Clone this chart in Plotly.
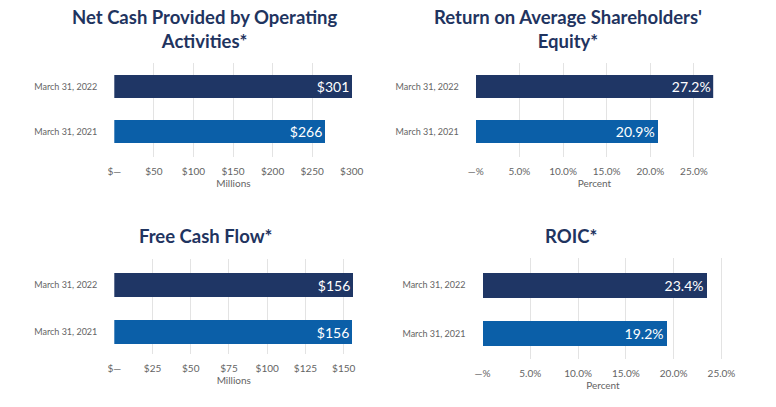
import plotly.graph_objects as go

W, H = 776, 407

categories = ["March 31, 2021", "March 31, 2022"]
net_cash = [266, 301]
roe = [20.9, 27.2]
fcf = [155.6, 156.3]
roic = [19.2, 23.4]

dollar_ticks_1 = [0, 50, 100, 150, 200, 250, 300]
dollar_text_1 = ["$\u2014", "$50", "$100", "$150", "$200", "$250", "$300"]
dollar_ticks_3 = [0, 25, 50, 75, 100, 125, 150]
dollar_text_3 = ["$\u2014", "$25", "$50", "$75", "$100", "$125", "$150"]
pct_ticks = [0, 5, 10, 15, 20, 25]
pct_text = ["\u2014%", "5.0%", "10.0%", "15.0%", "20.0%", "25.0%"]

titles = ["Net Cash Provided by Operating<br>Activities*",
          "Return on Average Shareholders'<br>Equity*",
          "Free Cash Flow*", "ROIC*"]

C_DARK = "#1f3665"
C_BLUE = "#0b5fa8"
TITLE_C = "#1f3460"
TICK_C = "#646464"
GRID_C = "#e3e3e3"
FONT = "Lato"

# panel geometry in pixels: x0, x1, xmax, top, bottom, center2022, center2021, barh
panels = [
    dict(x0=114.3, x1=352.5, xmax=301, top=63, bottom=157, c1=86.6, c0=131.6, bh=23,
         vals=net_cash, fmt=lambda v: f"${v:.0f}", tv=dollar_ticks_1, tt=dollar_text_1, ttl="Millions"),
    dict(x0=475.7, x1=713.2, xmax=27.2, top=63, bottom=157, c1=86.6, c0=131.6, bh=23,
         vals=roe, fmt=lambda v: f"{v:.1f}%", tv=pct_ticks, tt=pct_text, ttl="Percent"),
    dict(x0=114.3, x1=353.3, xmax=156.3, top=259, bottom=354, c1=284.7, c0=332.0, bh=24,
         vals=fcf, fmt=lambda v: f"${v:.0f}", tv=dollar_ticks_3, tt=dollar_text_3, ttl="Millions"),
    dict(x0=482.5, x1=723.4, xmax=25.2, top=258, bottom=359, c1=285.2, c0=333.5, bh=25,
         vals=roic, fmt=lambda v: f"{v:.1f}%", tv=pct_ticks, tt=pct_text, ttl="Percent"),
]

fig = go.Figure()
layout = {}
for i, p in enumerate(panels):
    n = "" if i == 0 else str(i + 1)
    unit = p["c0"] - p["c1"]
    r_top = 1 + (p["c1"] - p["top"]) / unit
    r_bot = -(p["bottom"] - p["c0"]) / unit
    fig.add_trace(go.Bar(
        x=p["vals"], y=categories, orientation="h",
        marker=dict(color=[C_BLUE, C_DARK], line=dict(width=0)),
        width=p["bh"] / unit,
        text=[p["fmt"](v) for v in p["vals"]],
        textposition="inside", insidetextanchor="end",
        textfont=dict(family=FONT, size=14, color="white"),
        xaxis="x" + n, yaxis="y" + n, showlegend=False, hoverinfo="skip",
        cliponaxis=False,
    ))
    layout["xaxis" + n] = dict(
        domain=[p["x0"] / W, p["x1"] / W], range=[0, p["xmax"]], anchor="y" + n,
        tickvals=p["tv"], ticktext=p["tt"], showgrid=True, gridcolor=GRID_C, gridwidth=1,
        zeroline=False, showline=False, ticks="", ticklabelstandoff=7, automargin=False,
        tickfont=dict(family=FONT, size=10, color=TICK_C),
        title=dict(text=p["ttl"], font=dict(family=FONT, size=10, color=TICK_C), standoff=1),
        fixedrange=True,
    )
    layout["yaxis" + n] = dict(
        domain=[1 - p["bottom"] / H, 1 - p["top"] / H], range=[r_bot, r_top], anchor="x" + n,
        type="category", showgrid=False, zeroline=False, showline=False, ticks="",
        ticklabelstandoff=16, automargin=False,
        tickfont=dict(family=FONT, size=9, color=TICK_C), fixedrange=True,
    )

annotations = []
title_pos = [(205, 29), (568, 29), (205, 236), (571, 236)]
for t, (tx, ty) in zip(titles, title_pos):
    annotations.append(dict(
        text=t, x=tx / W, y=1 - ty / H, xref="paper", yref="paper",
        xanchor="center", yanchor="middle", showarrow=False,
        font=dict(family=FONT, size=18.5, color=TITLE_C, weight="bold"),
    ))

fig.update_layout(
    width=W, height=H, margin=dict(l=0, r=0, t=0, b=0),
    paper_bgcolor="white", plot_bgcolor="white",
    annotations=annotations, bargap=0, **layout,
)
fig.write_html("out.html", config={"displayModeBar": False},
               post_script="document.body.style.margin='0px';")
